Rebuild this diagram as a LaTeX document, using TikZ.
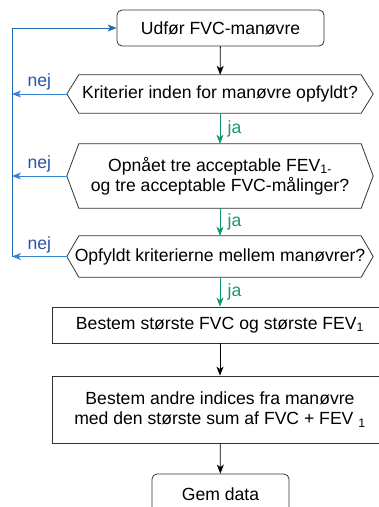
\documentclass[tikz,border=0pt]{standalone}
\usepackage{fontspec}
\setmainfont{Liberation Sans}
\usetikzlibrary{calc,arrows.meta}
\definecolor{nejtxt}{HTML}{2756A6}
\definecolor{nejline}{HTML}{3384D4}
\definecolor{loopcol}{HTML}{2468B0}
\definecolor{jagreen}{HTML}{16996C}
\definecolor{edgecol}{HTML}{333333}
\newcommand{\hexdraw}[1]{%
  \draw[edgecol, line width=0.8pt] (#1.west) -- ($(#1.north west)+(12,0)$) -- ($(#1.north east)+(-12,0)$) -- (#1.east) -- ($(#1.south east)+(-12,0)$) -- ($(#1.south west)+(12,0)$) -- cycle;}
\begin{document}
\begin{tikzpicture}[x=1pt,y=-1pt,
  font=\fontsize{17.6}{20.5}\selectfont,
  rbox/.style={draw=edgecol, line width=0.8pt, rounded corners=5pt, text=black, inner sep=0pt},
  sbox/.style={draw=edgecol, line width=0.8pt, text=black, inner sep=0pt, align=center},
  hexn/.style={inner sep=0pt, text=black, align=center},
  arr/.style={line width=0.8pt, -{Stealth[length=9pt,width=7pt,inset=2.5pt]}},
  garr/.style={arr, draw=jagreen},
  narr/.style={arr, draw=nejline},
  jal/.style={right, text=jagreen, xshift=4pt},
  nejl/.style={above, text=nejtxt}]
\useasboundingbox (0,0) rectangle (379,507);
\clip (0,0) rectangle (379,507);
\node[rbox, minimum width=207pt, minimum height=36pt] (start) at (220.5,28) {Udfør FVC-manøvre};
\node[hexn, minimum width=306pt, minimum height=38pt] (h1) at (220,94) {Kriterier inden for manøvre opfyldt?};
\node[hexn, minimum width=306pt, minimum height=64pt] (h2) at (220,176) {Opnået tre acceptable FEV\textsubscript{1-}\\og tre acceptable FVC-målinger?};
\node[hexn, minimum width=306pt, minimum height=41pt] (h3) at (220,256.5) {Opfyldt kriterierne mellem manøvrer?};
\node[sbox, minimum width=336pt, minimum height=36pt] (r1) at (220,325) {Bestem største FVC og største FEV\textsubscript{1}};
\node[sbox, minimum width=336pt, minimum height=67pt] (r2) at (220,409.5) {Bestem andre indices fra manøvre\\med den største sum af FVC + FEV \textsubscript{1}};
\node[rbox, minimum width=137pt, minimum height=40pt] (gem) at (220.5,494) {Gem data};
\hexdraw{h1}
\hexdraw{h2}
\hexdraw{h3}
\coordinate (l1) at (12,94);
\coordinate (l2) at (12,176);
\coordinate (l3) at (12,256.5);
\coordinate (ltop) at (12,28);
\draw[arr, draw=black] (start) -- (h1);
\draw[garr] (h1) -- node[jal]{ja} (h2);
\draw[garr] (h2) -- node[jal]{ja} (h3);
\draw[garr] (h3) -- node[jal]{ja} (r1);
\draw[arr, draw=black] (r1) -- (r2);
\draw[arr, draw=black] (r2) -- (gem);
\draw[narr] (h1.west) -- node[nejl]{nej} (l1);
\draw[narr] (h2.west) -- node[nejl]{nej} (l2);
\draw[narr] (h3.west) -- node[nejl]{nej} (l3);
\draw[loopcol, line width=0.8pt, -{Stealth[length=9pt,width=7pt,inset=2.5pt]}] (l3) -- (ltop) -- (start.west);
\end{tikzpicture}
\end{document}
